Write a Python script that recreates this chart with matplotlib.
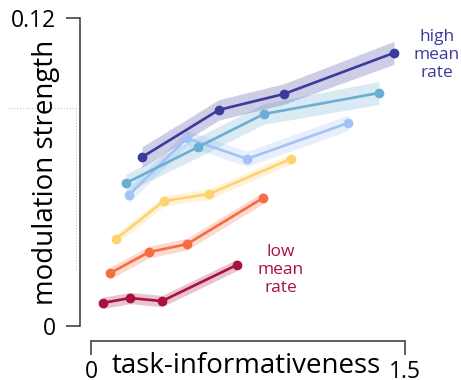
#!/usr/bin/env python3

"""Modulation strength vs task-informativeness, split by mean firing rate."""

import matplotlib
matplotlib.use("Agg")
from matplotlib import pyplot as plt
from matplotlib.lines import Line2D

plt.rcParams['font.family'] = ['Open Sans', 'DejaVu Sans']

# one row per mean-rate group, low -> high
colors = ["#a8123e", "#f46d43", "#fdd36e", "#a3c3f5", "#6aaed3", "#3b3b9b"]

x_red = [0.057, 0.186, 0.339, 0.697]
y_red = [0.0090, 0.0109, 0.0097, 0.0238]
e_red = [0.0022, 0.0022, 0.0022, 0.0022]

x_orange = [0.091, 0.277, 0.459, 0.822]
y_orange = [0.0206, 0.0288, 0.0319, 0.0499]
e_orange = [0.0023, 0.0023, 0.0023, 0.0023]

x_yellow = [0.119, 0.349, 0.564, 0.955]
y_yellow = [0.0339, 0.0487, 0.0514, 0.0651]
e_yellow = [0.0020, 0.0020, 0.0020, 0.0020]

x_lblue = [0.181, 0.459, 0.745, 1.228]
y_lblue = [0.0510, 0.0732, 0.0651, 0.0791]
e_lblue = [0.0030, 0.0030, 0.0030, 0.0030]

x_mblue = [0.167, 0.511, 0.826, 1.376]
y_mblue = [0.0557, 0.0697, 0.0826, 0.0908]
e_mblue = [0.0035, 0.0040, 0.0040, 0.0045]

x_dblue = [0.244, 0.611, 0.922, 1.447]
y_dblue = [0.0658, 0.0842, 0.0904, 0.1064]
e_dblue = [0.0040, 0.0040, 0.0040, 0.0045]

series = [(x_red, y_red, e_red), (x_orange, y_orange, e_orange),
          (x_yellow, y_yellow, e_yellow), (x_lblue, y_lblue, e_lblue),
          (x_mblue, y_mblue, e_mblue), (x_dblue, y_dblue, e_dblue)]

W, H = 461, 380
fig = plt.figure(figsize=(W / 100, H / 100), dpi=100)
ax = fig.add_axes([91 / W, 54 / H, 314 / W, 308 / H])

def px(x, y):
    """pixel position (from top-left) -> figure fraction"""
    return x / W, 1 - y / H

for (xs, ys, es), c in zip(series, colors):
    lo = [y - e for y, e in zip(ys, es)]
    hi = [y + e for y, e in zip(ys, es)]
    ax.fill_between(xs, lo, hi, color=c, alpha=0.25, lw=0, clip_on=False)
    ax.plot(xs, ys, color=c, lw=1.9, marker='o', ms=6, clip_on=False)

ax.set_xlim(0, 1.5)
ax.set_ylim(0, 0.12)
ax.set_xticks([0, 1.5])
ax.set_xticklabels(["0", "1.5"])
ax.set_yticks([0, 0.12])
ax.set_yticklabels(["0", "0.12"])

spine_col = "#444444"
for side in ["top", "right"]:
    ax.spines[side].set_visible(False)
ax.spines["left"].set_position(("outward", 7.9))
ax.spines["bottom"].set_position(("outward", 10.8))
ax.spines["left"].set_bounds(0, 0.12)
ax.spines["bottom"].set_bounds(0, 1.5)
for side in ["left", "bottom"]:
    ax.spines[side].set_color(spine_col)
    ax.spines[side].set_linewidth(1.2)
ax.tick_params(axis='both', length=10, width=1.2, color=spine_col, labelsize=16.5)
ax.tick_params(axis='y', pad=7)
ax.tick_params(axis='x', pad=4)

fig.text(*px(246, 373), "task-informativeness", ha='center', va='baseline', fontsize=20)
fig.text(*px(53, 172), "modulation strength", rotation=90, rotation_mode='anchor',
         ha='center', va='baseline', fontsize=20)

fig.text(*px(437, 55), "high\nmean\nrate", ha='center', va='center', fontsize=12.5,
         color="#3b3b9b", linespacing=1.15)
fig.text(*px(281, 270), "low\nmean\nrate", ha='center', va='center', fontsize=12.5,
         color="#a8123e", linespacing=1.15)

# faint dotted box edge left over in the original figure
dot = dict(color="#bbbbbb", lw=0.7, ls=(0, (1, 2)), transform=fig.transFigure)
fig.add_artist(Line2D(*zip(px(8, 108), px(76, 108)), **dot))
fig.add_artist(Line2D(*zip(px(76, 108), px(76, 270)), **dot))

fig.savefig("out.png", dpi=100)
